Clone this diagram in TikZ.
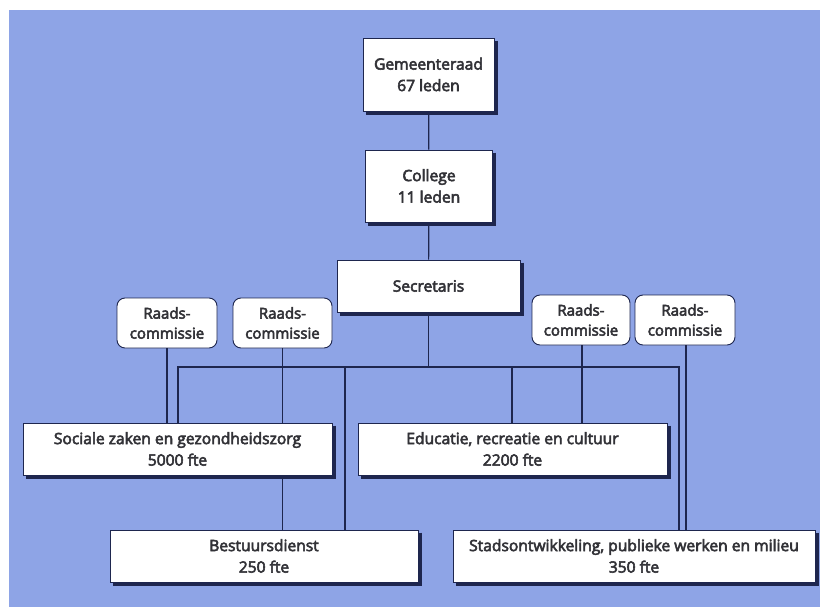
\documentclass[tikz,border=0pt]{standalone}
\usepackage{fontspec}
\setmainfont{Open Sans}
\newfontfamily\boxfont{Open Sans}[FakeBold=3.5]
\definecolor{bgblue}{RGB}{142,164,230}
\definecolor{linecol}{RGB}{30,38,78}
\definecolor{txtcol}{RGB}{50,50,55}
\tikzset{
  box/.style={draw=linecol, line width=0.9pt, fill=white, inner sep=0pt, align=center,
    text=txtcol, font=\boxfont\fontsize{15.6}{21.5}\selectfont},
  rbox/.style={draw=linecol, line width=0.9pt, fill=white, inner sep=0pt, align=center,
    rounded corners=8pt, text=txtcol, font=\boxfont\fontsize{15}{20}\selectfont},
  conn/.style={draw=linecol, line width=1.2pt},
  shadowline/.style={draw=linecol, line width=2.8pt}
}
\begin{document}
\begin{tikzpicture}[x=1pt,y=-1pt]
\useasboundingbox (0,0) rectangle (820,607);
\fill[white] (0,0) rectangle (820,607);
\fill[bgblue] (9,10) rectangle (820,607);
% nodes
\node[box, minimum width=131pt, minimum height=73pt] (g) at (428.5,74.5) {Gemeenteraad\\67 leden};
\node[box, minimum width=127pt, minimum height=72pt] (c) at (429,186) {College\\11 leden};
\node[box, minimum width=183pt, minimum height=52pt] (s) at (428.5,286) {Secretaris};
\node[rbox, minimum width=100pt, minimum height=50pt] (rc1) at (167,323) {Raads-\\commissie};
\node[rbox, minimum width=99pt, minimum height=50pt] (rc2) at (282.5,323) {Raads-\\commissie};
\node[rbox, minimum width=98pt, minimum height=50pt] (rc3) at (581,320) {Raads-\\commissie};
\node[rbox, minimum width=100pt, minimum height=50pt] (rc4) at (685,320) {Raads-\\commissie};
\node[box, minimum width=309pt, minimum height=52pt] (soc) at (177.5,449) {Sociale zaken en gezondheidszorg\\5000 fte};
\node[box, minimum width=309pt, minimum height=52pt] (edu) at (512.5,449) {Educatie, recreatie en cultuur\\2200 fte};
\node[box, minimum width=308pt, minimum height=52pt] (bes) at (264,556) {Bestuursdienst\\250 fte};
\node[box, minimum width=362pt, minimum height=52pt] (sta) at (634,556) {Stadsontwikkeling, publieke werken en milieu\\350 fte};
% shadows on the square boxes
\foreach \n in {g,c,s,soc,edu,bes,sta}{
  \draw[shadowline] ([shift={(1.8pt,-3pt)}]\n.north east) -- ([shift={(1.8pt,-1.8pt)}]\n.south east) -- ([shift={(3pt,-1.8pt)}]\n.south west);
}
% bus coordinates
\coordinate (busS) at (428.5,367);
\coordinate (busL) at (178,367);
\coordinate (busB) at (345,367);
\coordinate (busE) at (512,367);
\coordinate (busR) at (679,367);
% connectors
\draw[conn] (g) -- (c);
\draw[conn] (c) -- (s);
\draw[conn] (s.south) -- (busS);
\draw[conn] (busL |- soc.north) -- (busL) -- (busR) -- (busR |- sta.north);
\draw[conn] (busB) -- (busB |- bes.north);
\draw[conn] (busE) -- (busE |- edu.north);
\draw[conn] (rc1) -- (rc1 |- soc.north);
\draw[conn] (rc2) -- (rc2 |- soc.north);
\draw[conn] (rc2 |- soc.south) -- (rc2 |- bes.north);
\draw[conn] ([xshift=1pt]rc3.south) -- ([xshift=1pt]rc3.south |- edu.north);
\draw[conn] ([xshift=1pt]rc4.south) -- ([xshift=1pt]rc4.south |- sta.north);
\end{tikzpicture}
\end{document}
